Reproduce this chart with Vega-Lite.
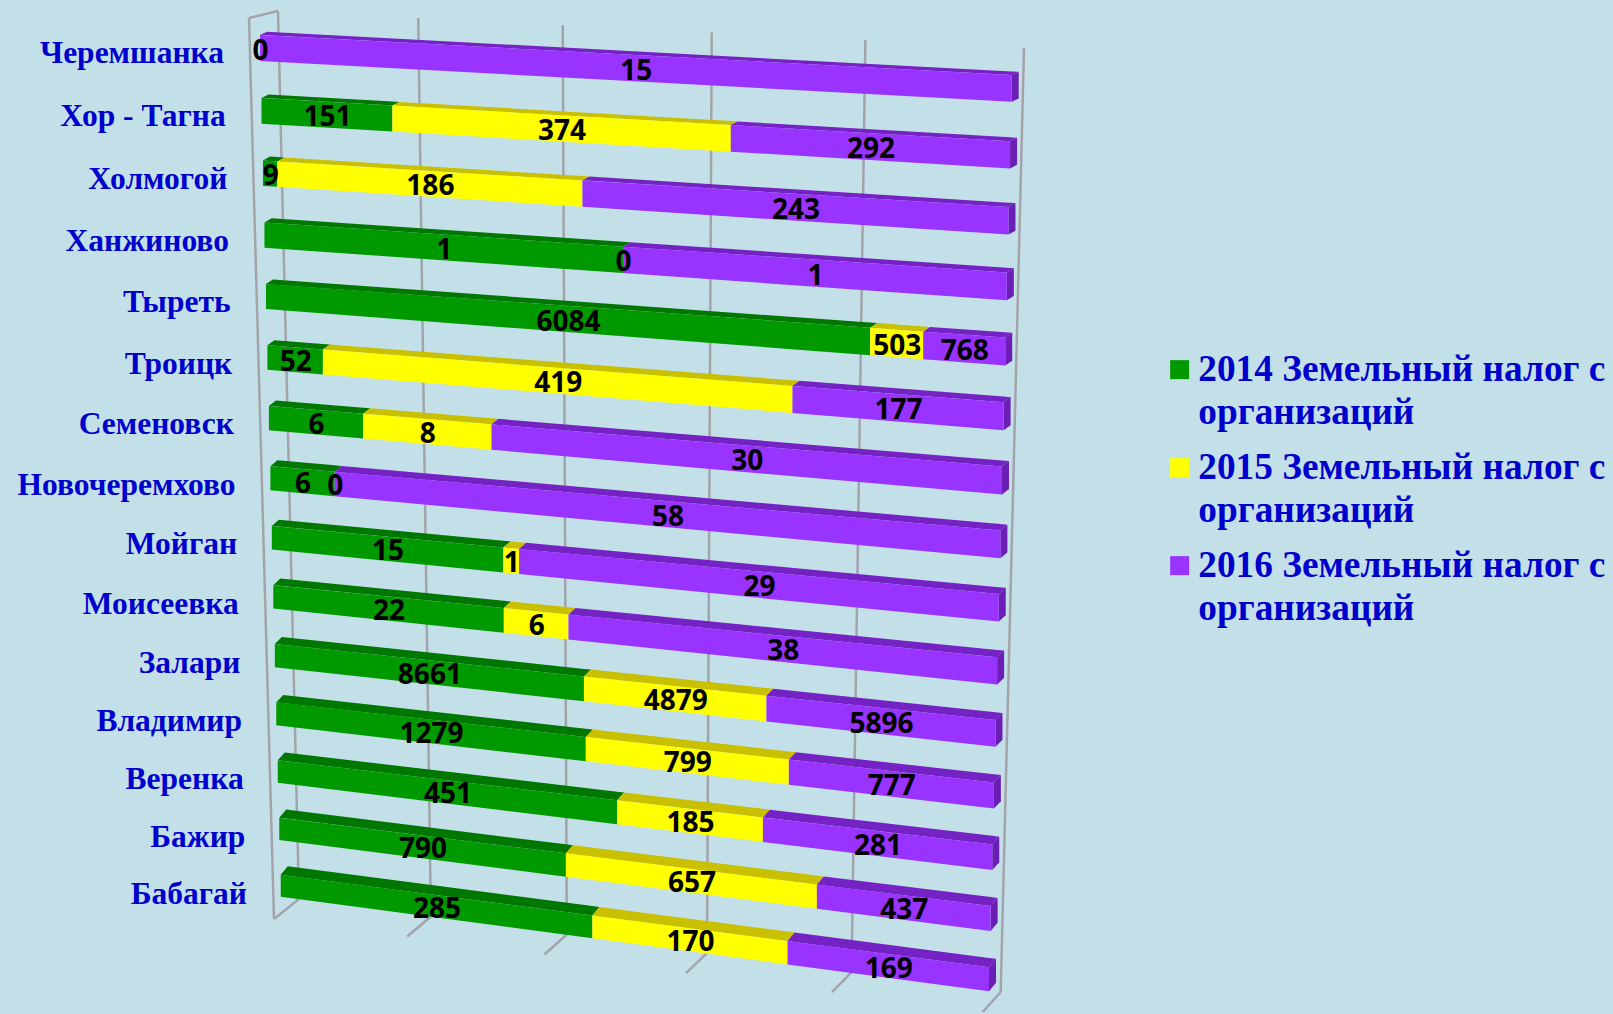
{
"$schema":"https://vega.github.io/schema/vega-lite/v6.json",
"width":1613,"height":1014,"padding":0,"autosize":{"type":"none"},
"background":"#c3e0e8",
"view":{"stroke":null,"fill":null},
"config":{"view":{"stroke":null},"style":{"guide-label":{"lineHeight":43}}},
"datasets":{
"rows":[
{"category":"Черемшанка","series":"2014 Земельный налог с организаций","value":0},
{"category":"Черемшанка","series":"2016 Земельный налог с организаций","value":15},
{"category":"Хор - Тагна","series":"2014 Земельный налог с организаций","value":151},
{"category":"Хор - Тагна","series":"2015 Земельный налог с организаций","value":374},
{"category":"Хор - Тагна","series":"2016 Земельный налог с организаций","value":292},
{"category":"Холмогой","series":"2014 Земельный налог с организаций","value":9},
{"category":"Холмогой","series":"2015 Земельный налог с организаций","value":186},
{"category":"Холмогой","series":"2016 Земельный налог с организаций","value":243},
{"category":"Ханжиново","series":"2014 Земельный налог с организаций","value":1},
{"category":"Ханжиново","series":"2015 Земельный налог с организаций","value":0},
{"category":"Ханжиново","series":"2016 Земельный налог с организаций","value":1},
{"category":"Тыреть","series":"2014 Земельный налог с организаций","value":6084},
{"category":"Тыреть","series":"2015 Земельный налог с организаций","value":503},
{"category":"Тыреть","series":"2016 Земельный налог с организаций","value":768},
{"category":"Троицк","series":"2014 Земельный налог с организаций","value":52},
{"category":"Троицк","series":"2015 Земельный налог с организаций","value":419},
{"category":"Троицк","series":"2016 Земельный налог с организаций","value":177},
{"category":"Семеновск","series":"2014 Земельный налог с организаций","value":6},
{"category":"Семеновск","series":"2015 Земельный налог с организаций","value":8},
{"category":"Семеновск","series":"2016 Земельный налог с организаций","value":30},
{"category":"Новочеремхово","series":"2014 Земельный налог с организаций","value":6},
{"category":"Новочеремхово","series":"2015 Земельный налог с организаций","value":0},
{"category":"Новочеремхово","series":"2016 Земельный налог с организаций","value":58},
{"category":"Мойган","series":"2014 Земельный налог с организаций","value":15},
{"category":"Мойган","series":"2015 Земельный налог с организаций","value":1},
{"category":"Мойган","series":"2016 Земельный налог с организаций","value":29},
{"category":"Моисеевка","series":"2014 Земельный налог с организаций","value":22},
{"category":"Моисеевка","series":"2015 Земельный налог с организаций","value":6},
{"category":"Моисеевка","series":"2016 Земельный налог с организаций","value":38},
{"category":"Залари","series":"2014 Земельный налог с организаций","value":8661},
{"category":"Залари","series":"2015 Земельный налог с организаций","value":4879},
{"category":"Залари","series":"2016 Земельный налог с организаций","value":5896},
{"category":"Владимир","series":"2014 Земельный налог с организаций","value":1279},
{"category":"Владимир","series":"2015 Земельный налог с организаций","value":799},
{"category":"Владимир","series":"2016 Земельный налог с организаций","value":777},
{"category":"Веренка","series":"2014 Земельный налог с организаций","value":451},
{"category":"Веренка","series":"2015 Земельный налог с организаций","value":185},
{"category":"Веренка","series":"2016 Земельный налог с организаций","value":281},
{"category":"Бажир","series":"2014 Земельный налог с организаций","value":790},
{"category":"Бажир","series":"2015 Земельный налог с организаций","value":657},
{"category":"Бажир","series":"2016 Земельный налог с организаций","value":437},
{"category":"Бабагай","series":"2014 Земельный налог с организаций","value":285},
{"category":"Бабагай","series":"2015 Земельный налог с организаций","value":170},
{"category":"Бабагай","series":"2016 Земельный налог с организаций","value":169}
],
"grid":[{"share":0},{"share":0.2},{"share":0.4},{"share":0.6},{"share":0.8},{"share":1}]
},
"data":{"name":"rows"},
"transform":[
{"stack":"value","groupby":["category"],"offset":"normalize","sort":[{"field":"series","order":"ascending"}],"as":["s0","s1"]},
{"calculate":"indexof(['Черемшанка','Хор - Тагна','Холмогой','Ханжиново','Тыреть','Троицк','Семеновск','Новочеремхово','Мойган','Моисеевка','Залари','Владимир','Веренка','Бажир','Бабагай'],datum.category)","as":"r"},
{"calculate":"datum.s0/(1+0.07*(1-datum.s0))","as":"t0"},
{"calculate":"datum.s1/(1+0.07*(1-datum.s1))","as":"t1"},
{"calculate":"260+1.48*datum.r","as":"xL"},
{"calculate":"1011.7-1.62*datum.r","as":"xR"},
{"calculate":"35+63.2*datum.r-0.23*datum.r*datum.r","as":"yL"},
{"calculate":"75+66.4*datum.r-0.19*datum.r*datum.r","as":"yR"},
{"calculate":"26-4*datum.r/14","as":"hL"},
{"calculate":"28-0.05*(datum.r-5)*(datum.r-5)","as":"hR"},
{"calculate":"datum.xL+datum.t0*(datum.xR-datum.xL)","as":"ax"},
{"calculate":"datum.xL+datum.t1*(datum.xR-datum.xL)","as":"bx"},
{"calculate":"datum.yL+datum.t0*(datum.yR-datum.yL)","as":"ay"},
{"calculate":"datum.yL+datum.t1*(datum.yR-datum.yL)","as":"by"},
{"calculate":"datum.hL+datum.t0*(datum.hR-datum.hL)","as":"ah"},
{"calculate":"datum.hL+datum.t1*(datum.hR-datum.hL)","as":"bh"},
{"calculate":"7","as":"dx"},
{"calculate":"-3.2-5.3*datum.r/14","as":"dy"},
{"calculate":"(datum.yR-datum.yL)/(datum.xR-datum.xL)","as":"m"}
],
"encoding":{
"x":{"field":"px","type":"quantitative","scale":{"domain":[0,1613],"nice":false,"zero":false},"axis":null},
"y":{"field":"py","type":"quantitative","scale":{"domain":[1014,0],"nice":false,"zero":false},"axis":null}
},
"layer":[
{"data":{"name":"grid"},
"transform":[
{"calculate":"datum.share/(1+0.08*(1-datum.share))","as":"t"},
{"calculate":"278+datum.t*746","as":"px"},
{"calculate":"11+datum.t*37","as":"py"},
{"calculate":"299+datum.t*701.7","as":"px2"},
{"calculate":"899+datum.t*93","as":"py2"}],
"mark":{"type":"rule","color":"#a3a3ab","strokeWidth":2.5},
"encoding":{"x2":{"field":"px2"},"y2":{"field":"py2"}}},
{"data":{"name":"grid"},
"transform":[
{"calculate":"datum.share/(1+0.08*(1-datum.share))","as":"t"},
{"calculate":"299+datum.t*701.7","as":"px"},
{"calculate":"899+datum.t*93","as":"py"},
{"calculate":"datum.px-25+7*datum.t","as":"px2"},
{"calculate":"datum.py+20","as":"py2"}],
"mark":{"type":"rule","color":"#a3a3ab","strokeWidth":2.5},
"encoding":{"x2":{"field":"px2"},"y2":{"field":"py2"}}},
{"data":{"name":"grid"},
"transform":[
{"filter":"datum.share==0"},
{"calculate":"278","as":"px"},
{"calculate":"11","as":"py"},
{"calculate":"249","as":"px2"},
{"calculate":"18","as":"py2"}],
"mark":{"type":"rule","color":"#a3a3ab","strokeWidth":2.5},
"encoding":{"x2":{"field":"px2"},"y2":{"field":"py2"}}},
{"data":{"name":"grid"},
"transform":[
{"filter":"datum.share==0"},
{"calculate":"249","as":"px"},
{"calculate":"18","as":"py"},
{"calculate":"274","as":"px2"},
{"calculate":"919","as":"py2"}],
"mark":{"type":"rule","color":"#a3a3ab","strokeWidth":2.5},
"encoding":{"x2":{"field":"px2"},"y2":{"field":"py2"}}},
{"transform":[
{"filter":"datum.value>0"},
{"calculate":"datum.ax","as":"a"},
{"calculate":"datum.ax+datum.dx","as":"d"},
{"calculate":"datum.bx","as":"b"},
{"calculate":"datum.bx+datum.dx","as":"c"},
{"fold":["a","d","b","c"],"as":["corner","px"]},
{"calculate":"datum.corner=='a'?datum.ay:datum.corner=='d'?datum.ay+datum.dy:datum.corner=='b'?datum.by+datum.dy-datum.m*datum.dx:datum.by+datum.dy","as":"py"},
{"calculate":"datum.corner=='a'?datum.ay:datum.corner=='d'?datum.ay+datum.m*datum.dx:datum.corner=='b'?datum.by:datum.by+datum.dy","as":"py2"}],
"mark":{"type":"area","orient":"vertical"},
"encoding":{"y2":{"field":"py2"},
"color":{"field":"series","type":"nominal","scale":{"range":["#007700","#c8c000","#7522c4"]},"legend":null},
"detail":{"field":"category"}}},
{"transform":[
{"filter":"datum.s1>0.9999"},
{"calculate":"datum.bx","as":"e0"},
{"calculate":"datum.bx+datum.dx","as":"e1"},
{"fold":["e0","e1"],"as":["edge","px"]},
{"calculate":"datum.edge=='e0'?datum.by:datum.by+datum.dy","as":"py"},
{"calculate":"datum.py+datum.bh","as":"py2"}],
"mark":{"type":"area","orient":"vertical","color":"#6a1eb4"},
"encoding":{"y2":{"field":"py2"},"detail":{"field":"category"}}},
{"transform":[
{"filter":"datum.value>0"},
{"calculate":"datum.ax","as":"e0"},
{"calculate":"datum.bx","as":"e1"},
{"fold":["e0","e1"],"as":["edge","px"]},
{"calculate":"datum.edge=='e0'?datum.ay:datum.by","as":"py"},
{"calculate":"datum.edge=='e0'?datum.ay+datum.ah:datum.by+datum.bh","as":"py2"}],
"mark":{"type":"area","orient":"vertical"},
"encoding":{"y2":{"field":"py2"},
"color":{"field":"series","type":"nominal","scale":{"range":["#009900","#ffff00","#9933ff"]},
"legend":{"title":null,"orient":"none","legendX":1161,"legendY":351,"padding":0,"symbolType":"square","symbolSize":361,"symbolStrokeWidth":0,"symbolOpacity":1,"labelFont":"Liberation Serif","labelFontWeight":"bold","labelFontSize":37.3,"labelColor":"#0000cc","labelLimit":500,"labelOffset":0,"labelBaseline":"middle","rowPadding":17,"labelExpr":"split(replace(datum.label,' организаций','|организаций'),'|')"}},
"detail":{"field":"category"}}},
{"transform":[
{"calculate":"(datum.t0+datum.t1)/2","as":"tm"},
{"calculate":"datum.xL+datum.tm*(datum.xR-datum.xL)+0.5","as":"px"},
{"calculate":"datum.yL+datum.tm*(datum.yR-datum.yL)+(datum.hL+datum.tm*(datum.hR-datum.hL))/2+3.5","as":"py"}],
"mark":{"type":"text","font":"Open Sans","fontWeight":"bold","fontSize":28,"color":"#000000","baseline":"middle","align":"center"},
"encoding":{"text":{"field":"value","type":"quantitative"}}},
{"transform":[
{"filter":"datum.s1>0.9999"},
{"calculate":"224+1.64*datum.r","as":"px"},
{"calculate":"datum.yL+datum.hL/2+6+3*datum.r/14","as":"py"}],
"mark":{"type":"text","font":"Liberation Serif","fontWeight":"bold","fontSize":31.5,"color":"#0000cc","baseline":"middle","align":"right"},
"encoding":{"text":{"field":"category","type":"nominal"}}}
],
"resolve":{"scale":{"color":"independent"}}
}
